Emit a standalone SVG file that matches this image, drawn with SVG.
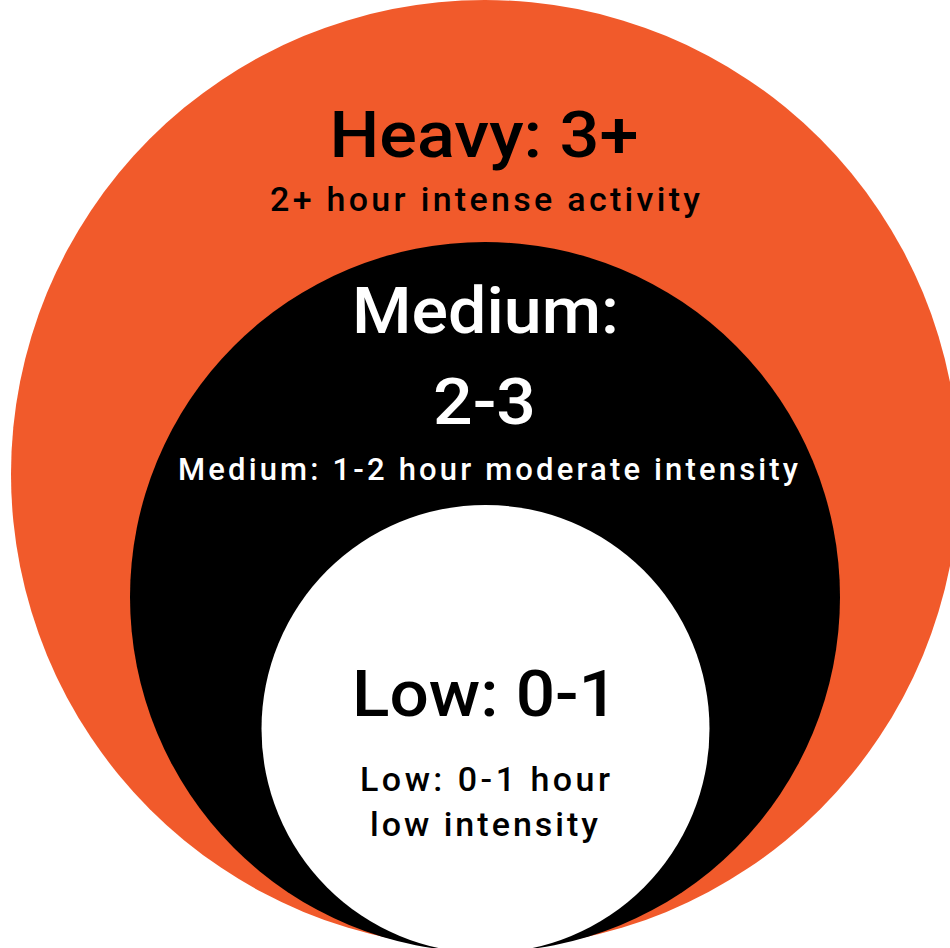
<svg xmlns="http://www.w3.org/2000/svg" width="950" height="948" viewBox="0 0 950 948">
  <style>
    .big { font-family: Roboto, "Noto Sans", "DejaVu Sans", sans-serif; font-weight: 500; font-size: 64px; text-anchor: middle; }
    .small { font-family: Roboto, "Noto Sans", "DejaVu Sans", sans-serif; font-weight: 500; font-size: 34px; text-anchor: middle; }
    .note { font-size: 31px; }
    .dark { fill: #000000; }
    .light { fill: #ffffff; }
  </style>
  <rect x="0" y="0" width="950" height="948" fill="#ffffff"/>

  <!-- Outer ring: heavy activity -->
  <g id="heavy">
    <circle cx="485" cy="474" r="474" fill="#F15A2B"/>
    <text class="big dark" x="484" y="157" textLength="309" lengthAdjust="spacingAndGlyphs">Heavy: 3+</text>
    <text class="small dark" x="485" y="211" textLength="430" lengthAdjust="spacing">2+ hour intense activity</text>
  </g>

  <!-- Middle ring: medium activity -->
  <g id="medium">
    <circle cx="485" cy="597" r="355" fill="#000000"/>
    <text class="big light" x="485.5" y="333" textLength="267" lengthAdjust="spacingAndGlyphs">Medium:</text>
    <text class="big light" x="484.5" y="424" textLength="103" lengthAdjust="spacingAndGlyphs">2-3</text>
    <text class="small note light" x="488" y="480" textLength="620" lengthAdjust="spacing">Medium: 1-2 hour moderate intensity</text>
  </g>

  <!-- Inner circle: low activity -->
  <g id="low">
    <circle cx="485.5" cy="729" r="224" fill="#ffffff"/>
    <text class="big dark" x="485" y="716" textLength="266" lengthAdjust="spacingAndGlyphs">Low: 0-1</text>
    <text class="small dark" x="485" y="791" textLength="250" lengthAdjust="spacing">Low: 0-1 hour</text>
    <text class="small dark" x="484" y="836" textLength="228" lengthAdjust="spacing">low intensity</text>
  </g>

  <g id="connectors"/>
</svg>
